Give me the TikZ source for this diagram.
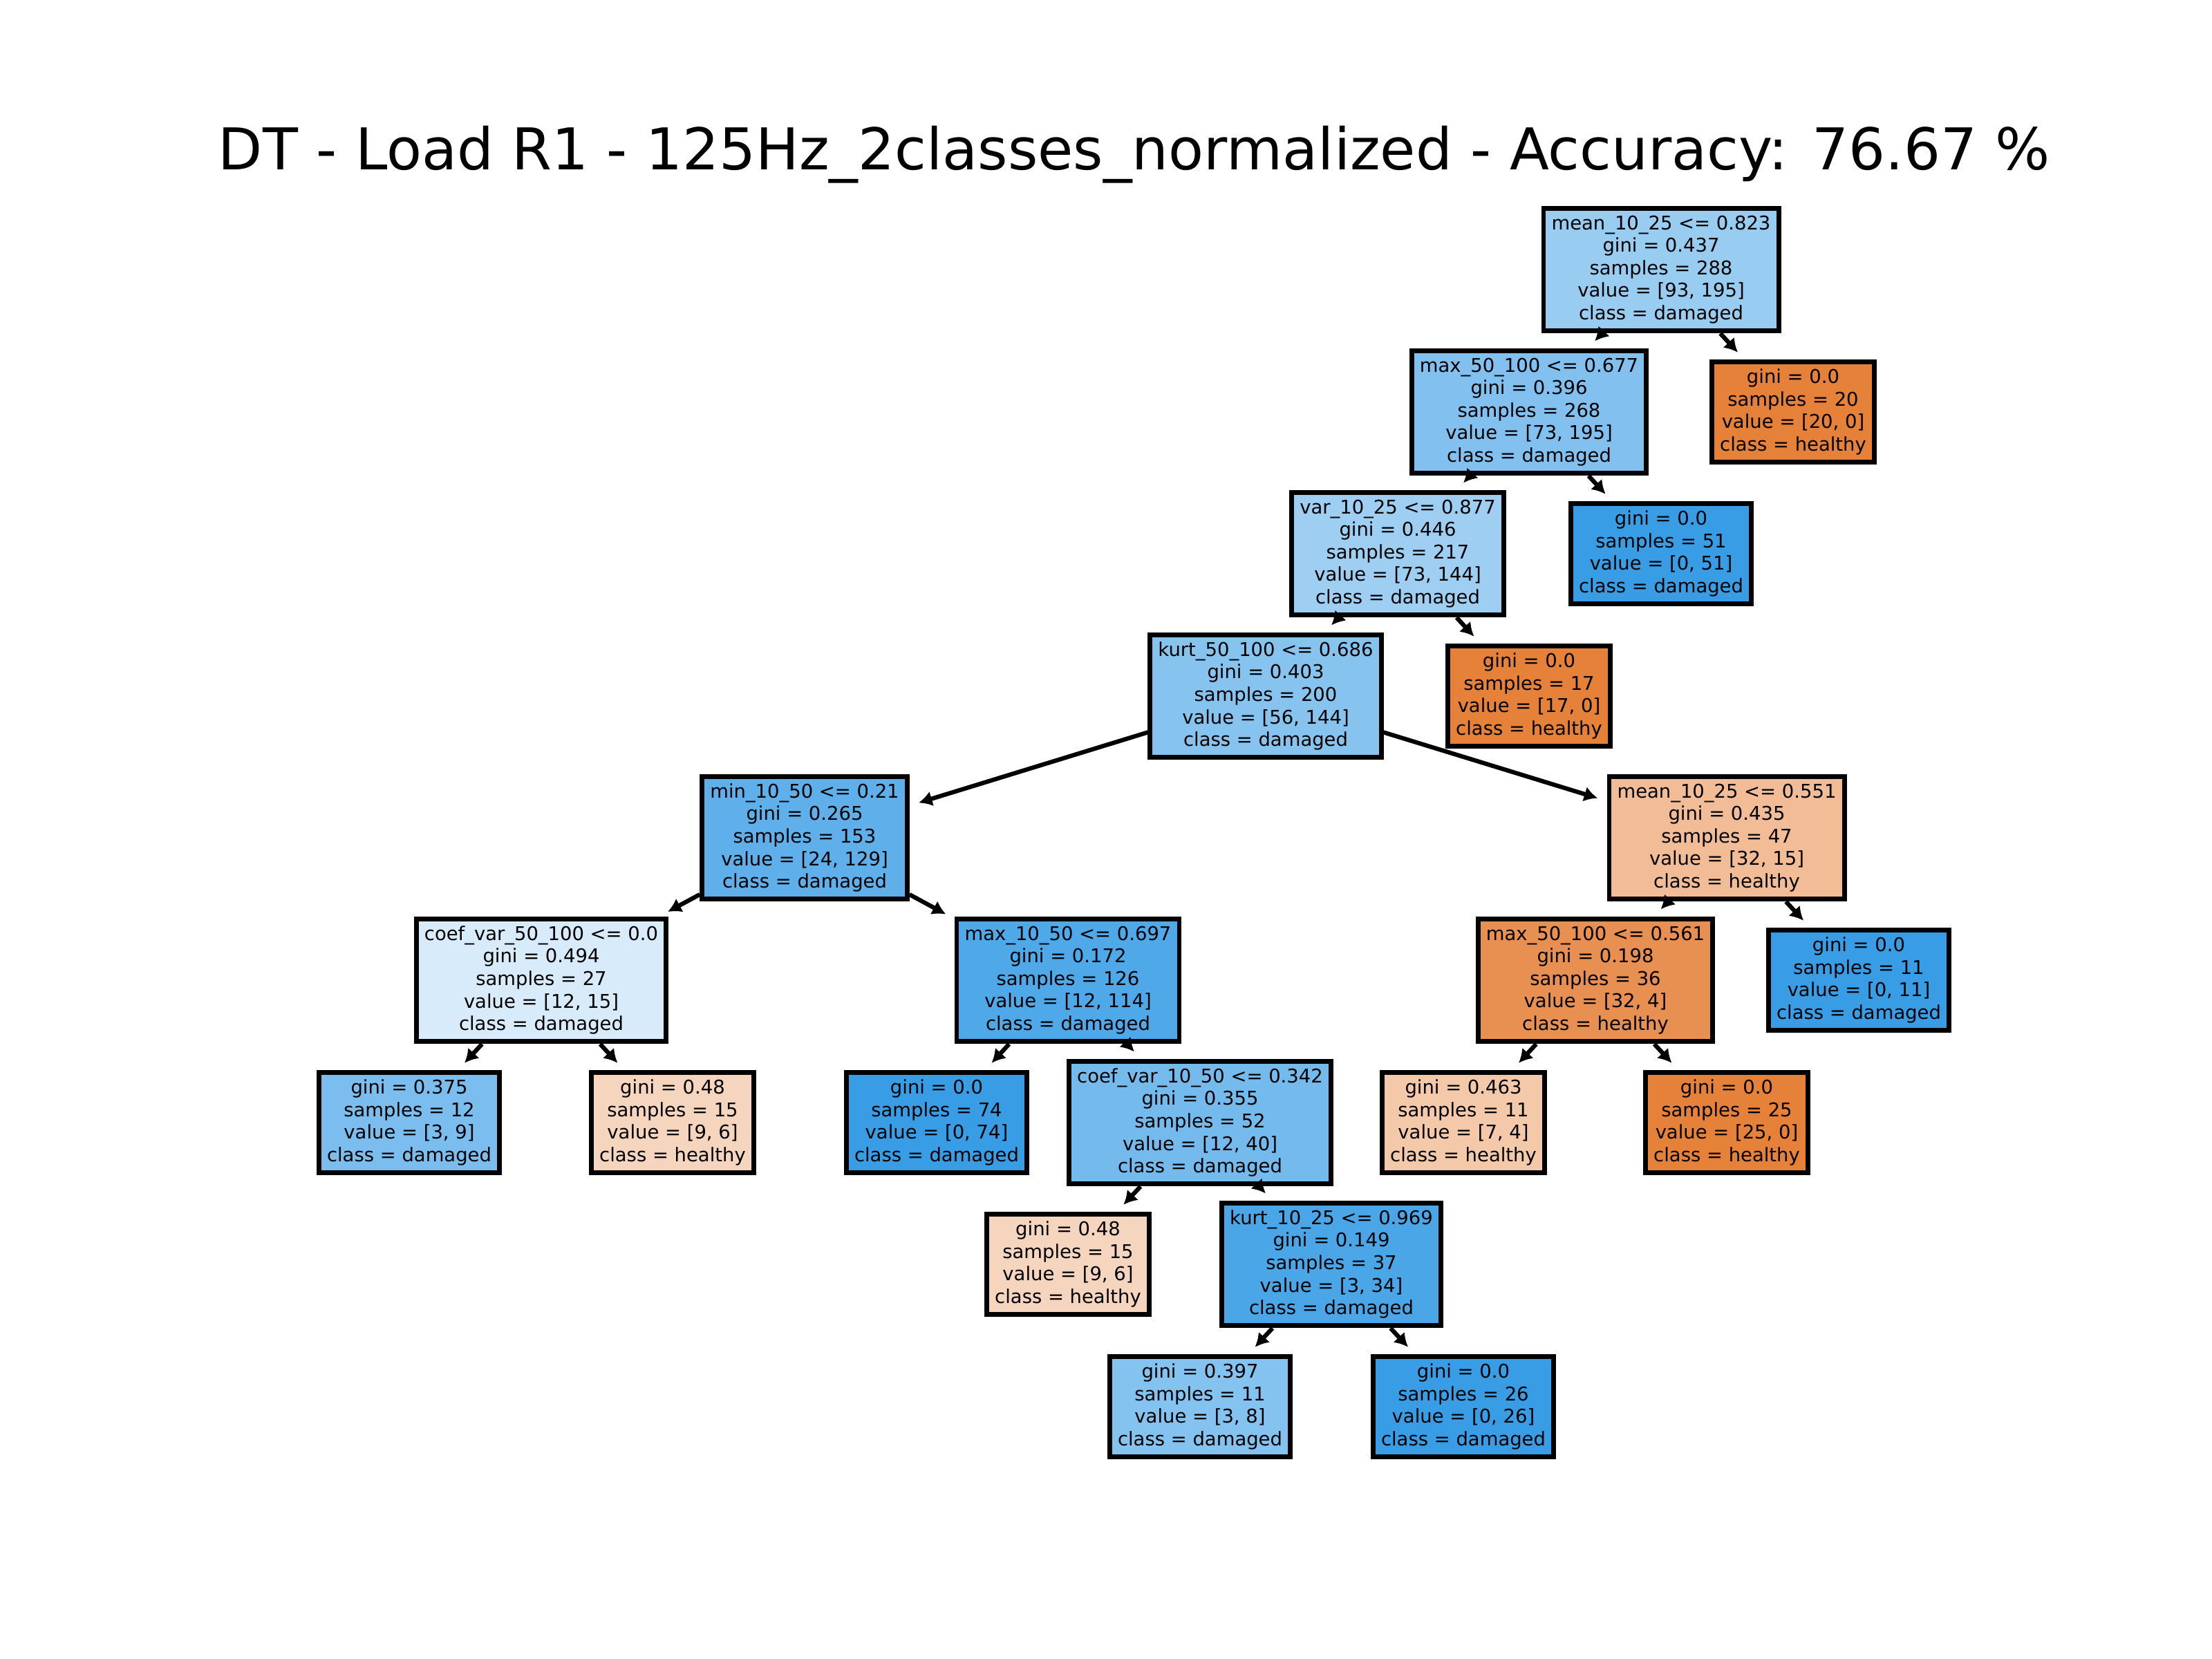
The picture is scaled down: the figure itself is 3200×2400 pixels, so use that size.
\documentclass[tikz,border=0pt]{standalone}
\usepackage{fontspec}
\setmainfont{DejaVu Sans}
\usetikzlibrary{arrows.meta}
\definecolor{dmg}{RGB}{57,157,229}
\definecolor{hlt}{RGB}{229,129,57}
\tikzset{
  tn/.style={draw=black, line width=1pt, inner xsep=1.66pt, inner ysep=0pt, align=center,
    font=\fontsize{3.95pt}{4.7pt}\selectfont},
  inner/.style={tn, minimum height=25.6pt},
  leaf/.style={tn, minimum height=20.9pt},
  arr/.style={line width=0.9pt, -{Latex[length=2.8pt,width=3.2pt]}, shorten >=2pt},
}
\begin{document}
\begin{tikzpicture}[x=0.144pt, y=-0.144pt]
\useasboundingbox (0,0) rectangle (3200,2400);
\node[anchor=base, font=\fontsize{12pt}{14.4pt}\selectfont] (title) at (1641,246)
  {DT - Load R1 - 125Hz\_2classes\_normalized - Accuracy: 76.67 \%};

\node[inner, fill=dmg!52] (n1) at (2403,390) {mean\_10\_25 <= 0.823\\gini = 0.437\\samples = 288\\value = [93, 195]\\class = damaged};
\node[inner, fill=dmg!63] (n2) at (2212,596) {max\_50\_100 <= 0.677\\gini = 0.396\\samples = 268\\value = [73, 195]\\class = damaged};
\node[leaf, fill=hlt] (n3) at (2594,596) {gini = 0.0\\samples = 20\\value = [20, 0]\\class = healthy};
\node[inner, fill=dmg!49] (n4) at (2022,801) {var\_10\_25 <= 0.877\\gini = 0.446\\samples = 217\\value = [73, 144]\\class = damaged};
\node[leaf, fill=dmg] (n5) at (2403,801) {gini = 0.0\\samples = 51\\value = [0, 51]\\class = damaged};
\node[inner, fill=dmg!61] (n6) at (1831,1007) {kurt\_50\_100 <= 0.686\\gini = 0.403\\samples = 200\\value = [56, 144]\\class = damaged};
\node[leaf, fill=hlt] (n7) at (2212,1007) {gini = 0.0\\samples = 17\\value = [17, 0]\\class = healthy};
\node[inner, fill=dmg!81] (n8) at (1164,1212) {min\_10\_50 <= 0.21\\gini = 0.265\\samples = 153\\value = [24, 129]\\class = damaged};
\node[inner, fill=hlt!53] (n9) at (2498,1212) {mean\_10\_25 <= 0.551\\gini = 0.435\\samples = 47\\value = [32, 15]\\class = healthy};
\node[inner, fill=dmg!20] (n10) at (783,1418) {coef\_var\_50\_100 <= 0.0\\gini = 0.494\\samples = 27\\value = [12, 15]\\class = damaged};
\node[inner, fill=dmg!89] (n11) at (1545,1418) {max\_10\_50 <= 0.697\\gini = 0.172\\samples = 126\\value = [12, 114]\\class = damaged};
\node[inner, fill=hlt!88] (n12) at (2308,1418) {max\_50\_100 <= 0.561\\gini = 0.198\\samples = 36\\value = [32, 4]\\class = healthy};
\node[leaf, fill=dmg] (n13) at (2689,1418) {gini = 0.0\\samples = 11\\value = [0, 11]\\class = damaged};
\node[leaf, fill=dmg!67] (n14) at (592,1624) {gini = 0.375\\samples = 12\\value = [3, 9]\\class = damaged};
\node[leaf, fill=hlt!33] (n15) at (973,1624) {gini = 0.48\\samples = 15\\value = [9, 6]\\class = healthy};
\node[leaf, fill=dmg] (n16) at (1355,1624) {gini = 0.0\\samples = 74\\value = [0, 74]\\class = damaged};
\node[inner, fill=dmg!70] (n17) at (1736,1624) {coef\_var\_10\_50 <= 0.342\\gini = 0.355\\samples = 52\\value = [12, 40]\\class = damaged};
\node[leaf, fill=hlt!43] (n18) at (2117,1624) {gini = 0.463\\samples = 11\\value = [7, 4]\\class = healthy};
\node[leaf, fill=hlt] (n19) at (2498,1624) {gini = 0.0\\samples = 25\\value = [25, 0]\\class = healthy};
\node[leaf, fill=hlt!33] (n20) at (1545,1829) {gini = 0.48\\samples = 15\\value = [9, 6]\\class = healthy};
\node[inner, fill=dmg!91] (n21) at (1926,1829) {kurt\_10\_25 <= 0.969\\gini = 0.149\\samples = 37\\value = [3, 34]\\class = damaged};
\node[leaf, fill=dmg!62] (n22) at (1736,2035) {gini = 0.397\\samples = 11\\value = [3, 8]\\class = damaged};
\node[leaf, fill=dmg] (n23) at (2117,2035) {gini = 0.0\\samples = 26\\value = [0, 26]\\class = damaged};

\foreach \p/\c in {n1/n2,n1/n3,n2/n4,n2/n5,n4/n6,n4/n7,n6/n8,n6/n9,n8/n10,n8/n11,
  n9/n12,n9/n13,n10/n14,n10/n15,n11/n16,n11/n17,n12/n18,n12/n19,n17/n20,n17/n21,n21/n22,n21/n23}
  \draw[arr] (\p) -- (\c);
\end{tikzpicture}
\end{document}
